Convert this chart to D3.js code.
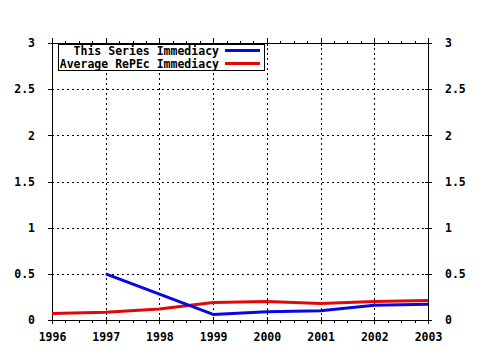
<!DOCTYPE html>
<html><head><meta charset="utf-8">
<script src="https://cdn.jsdelivr.net/npm/d3@7"></script>
<style>
html,body{margin:0;padding:0;background:#fff;}
svg text{font-family:"DejaVu Sans Mono",monospace;font-weight:bold;font-size:11.5px;fill:#000;}
</style></head>
<body>
<svg id="chart" width="480" height="350"></svg>
<script>
const years = [1996, 1997, 1998, 1999, 2000, 2001, 2002, 2003];
const seriesImmediacy = [null, 0.50, 0.28, 0.06, 0.09, 0.10, 0.16, 0.17];
const repecImmediacy = [0.07, 0.085, 0.12, 0.19, 0.20, 0.18, 0.20, 0.21];
const yTicks = [0, 0.5, 1, 1.5, 2, 2.5, 3];
const yTickLabels = ["0", "0.5", "1", "1.5", "2", "2.5", "3"];
const legendLabels = ["This Series Immediacy", "Average RePEc Immediacy"];
const colors = ["#0808e0", "#e00808"];

const svg = d3.select("#chart");
const L = 52, R = 428, T = 43, B = 320;
const x = d3.scaleLinear().domain([1996, 2003]).range([L, R]);
const y = d3.scaleLinear().domain([0, 3]).range([B, T]);

// grid
const grid = svg.append("g").attr("stroke", "#000").attr("stroke-width", 1)
  .attr("stroke-dasharray", "2,3").attr("shape-rendering", "crispEdges");
years.slice(1, -1).forEach(v => {
  grid.append("line").attr("x1", x(v) + 0.5).attr("x2", x(v) + 0.5).attr("y1", T).attr("y2", B);
});
yTicks.slice(1, -1).forEach(v => {
  grid.append("line").attr("x1", L).attr("x2", R).attr("y1", Math.round(y(v)) + 0.5).attr("y2", Math.round(y(v)) + 0.5);
});

const quarters = [];
for (let yr = 1996; yr < 2003; yr++) for (let q = 1; q < 4; q++) quarters.push(yr + q / 4);

function styleAxis(g, inner, orient) {
  g.select(".domain").remove();
  g.selectAll(".tick line").attr("stroke", "#000").attr("shape-rendering", "crispEdges");
  if (inner) {
    g.selectAll(".tick line").attr(orient === "v" ? "y1" : "x1", inner);
  }
}

// bottom axis
svg.append("g").attr("transform", `translate(0,${B})`)
  .call(d3.axisBottom(x).tickValues(years).tickFormat(d3.format("d")).tickSize(4).tickPadding(9))
  .call(g => styleAxis(g, -3, "v"));
svg.append("g").attr("transform", `translate(0,${B})`)
  .call(d3.axisBottom(x).tickValues(quarters).tickFormat("").tickSize(3))
  .call(g => styleAxis(g));
// top axis
svg.append("g").attr("transform", `translate(0,${T})`)
  .call(d3.axisTop(x).tickValues(years).tickFormat("").tickSize(5))
  .call(g => styleAxis(g, 3, "v"));
svg.append("g").attr("transform", `translate(0,${T})`)
  .call(d3.axisTop(x).tickValues(quarters).tickFormat("").tickSize(2))
  .call(g => styleAxis(g));
// left axis
svg.append("g").attr("transform", `translate(${L},0)`)
  .call(d3.axisLeft(y).tickValues(yTicks).tickFormat((d, i) => yTickLabels[i]).tickSize(4).tickPadding(13))
  .call(g => styleAxis(g, 2, "h"));
// right axis
svg.append("g").attr("transform", `translate(${R},0)`)
  .call(d3.axisRight(y).tickValues(yTicks).tickFormat((d, i) => yTickLabels[i]).tickSize(4).tickPadding(13))
  .call(g => styleAxis(g, -3, "h"));
svg.selectAll(".tick text").attr("font-family", null).attr("font-size", null).attr("fill", "#000");

// frame lines
const frame = svg.append("g").attr("stroke", "#000").attr("shape-rendering", "crispEdges");
frame.append("line").attr("x1", L - 4).attr("x2", R + 4).attr("y1", T + 0.5).attr("y2", T + 0.5);
frame.append("line").attr("x1", L - 4).attr("x2", R + 4).attr("y1", B + 0.5).attr("y2", B + 0.5);
frame.append("line").attr("x1", L + 0.5).attr("x2", L + 0.5).attr("y1", T - 4).attr("y2", B + 4);
frame.append("line").attr("x1", R + 0.5).attr("x2", R + 0.5).attr("y1", T - 4).attr("y2", B + 4);

// lines
const line = d3.line().defined(d => d[1] != null).x(d => x(d[0])).y(d => y(d[1]));
[repecImmediacy, seriesImmediacy].forEach((s, i) => {
  svg.append("path").datum(years.map((yr, j) => [yr, s[j]]))
    .attr("d", line).attr("fill", "none")
    .attr("stroke", i === 0 ? colors[1] : colors[0]).attr("stroke-width", 3)
    .attr("stroke-linejoin", "round");
});

// legend
const lg = svg.append("g");
lg.append("rect").attr("x", 58.5).attr("y", 44.5).attr("width", 206).attr("height", 26)
  .attr("fill", "#fff").attr("stroke", "#000").attr("shape-rendering", "crispEdges");
legendLabels.forEach((t, i) => {
  const cy = 50.5 + i * 13;
  lg.append("text").attr("x", 219).attr("y", cy).attr("dy", "0.36em")
    .attr("text-anchor", "end").text(t);
  lg.append("line").attr("x1", 225).attr("x2", 260).attr("y1", cy).attr("y2", cy)
    .attr("stroke", colors[i]).attr("stroke-width", 3);
});
</script>
</body></html>
